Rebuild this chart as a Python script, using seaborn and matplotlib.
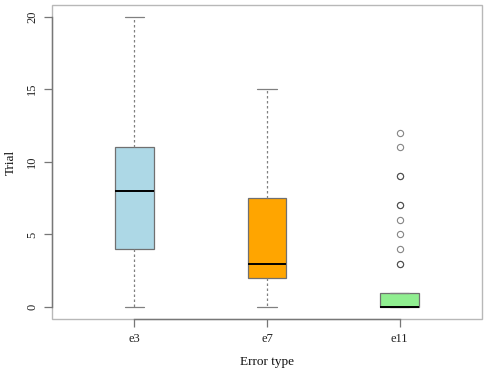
import numpy as np
import pandas as pd
import matplotlib
matplotlib.use("Agg")
import matplotlib.pyplot as plt
from matplotlib.patches import Rectangle
import seaborn as sns

error_types = ["e3", "e7", "e11"]
e3_values, e3_counts = [0, 4, 8, 11, 20], [1, 1, 1, 1, 1]
e7_values, e7_counts = [0, 2, 3, 7.5, 15], [1, 1, 1, 1, 1]
e11_values = [0, 1, 3, 4, 5, 6, 7, 9, 11, 12]
e11_counts = [23, 11, 2, 1, 1, 1, 2, 2, 1, 1]
box_colors = {"e3": "#ADD8E6", "e7": "#FFA500", "e11": "#90EE90"}

frames = []
for name, vals, cnts in [("e3", e3_values, e3_counts),
                         ("e7", e7_values, e7_counts),
                         ("e11", e11_values, e11_counts)]:
    frames.append(pd.DataFrame({"Error type": name,
                                "Trial": np.repeat(vals, cnts)}))
df = pd.concat(frames, ignore_index=True)

sns.set_theme(style="white")
plt.rcParams["font.family"] = ["Liberation Serif", "DejaVu Serif"]

fig = plt.figure(figsize=(4.9, 3.72), dpi=100)
ax = fig.add_axes([52 / 490, 1 - 319 / 372, 430 / 490, 314 / 372])

sns.boxplot(data=df, x="Error type", y="Trial", hue="Error type",
            order=error_types, palette=box_colors, saturation=1, width=0.29,
            legend=False, whis=1.5, ax=ax,
            boxprops=dict(edgecolor="#707070", linewidth=0.9),
            medianprops=dict(color="black", linewidth=1.4),
            whiskerprops=dict(color="#808080", linestyle=(0, (2, 2)), linewidth=0.9),
            capprops=dict(color="#808080", linewidth=0.9),
            flierprops=dict(marker="o", markerfacecolor="none",
                            markeredgecolor="#202020", markersize=4.5,
                            markeredgewidth=0.8, alpha=0.55))

ax.set_xlim(-0.62, 2.62)
ax.set_ylim(-0.82, 20.8)
ax.set_yticks([0, 5, 10, 15, 20])

# R style: axis lines only across the tick range, light frame round the plot
for side in ["top", "right"]:
    ax.spines[side].set_visible(False)
ax.spines["left"].set_bounds(0, 20)
ax.spines["bottom"].set_bounds(0, 2)
for side in ["left", "bottom"]:
    ax.spines[side].set_color("#777777")
    ax.spines[side].set_linewidth(1.0)
ax.add_patch(Rectangle((0, 0), 1, 1, transform=ax.transAxes, fill=False,
                       edgecolor="#b8b8b8", linewidth=1.0, clip_on=False,
                       zorder=0.5))

ax.tick_params(axis="both", which="major", length=6, width=0.9,
               color="#777777", labelsize=9, bottom=True, left=True,
               pad=4, labelcolor="#222222")
for lab in ax.get_yticklabels():
    lab.set_rotation(90)
    lab.set_va("center")

ax.set_xlabel("Error type", fontsize=9.5, labelpad=8, color="#111111")
ax.set_ylabel("Trial", fontsize=9.5, labelpad=7, color="#111111")

fig.savefig("out.png", dpi=100)
